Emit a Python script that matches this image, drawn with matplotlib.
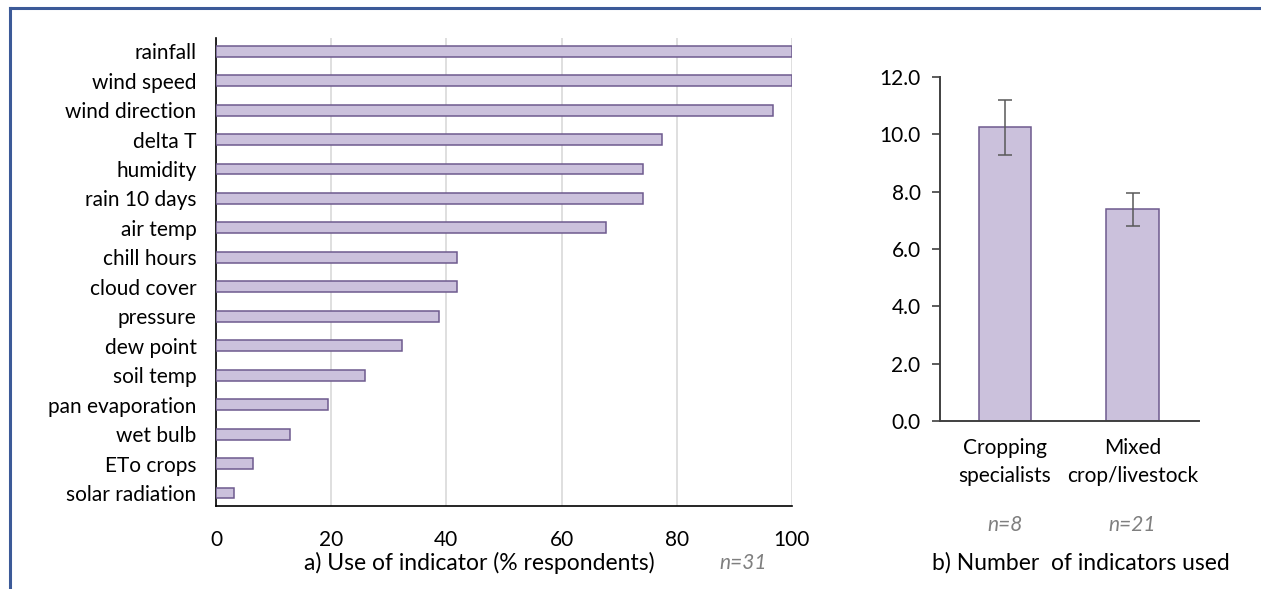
import numpy as np
import matplotlib.pyplot as plt
from matplotlib.lines import Line2D

plt.rcParams['font.family'] = ['Lato', 'DejaVu Sans']

# indicator use, % of respondents (n=31)
indicators = ['rainfall', 'wind speed', 'wind direction', 'delta T', 'humidity',
              'rain 10 days', 'air temp', 'chill hours', 'cloud cover', 'pressure',
              'dew point', 'soil temp', 'pan evaporation', 'wet bulb', 'ETo crops',
              'solar radiation']
pct_use = [100.0, 100.0, 96.8, 77.4, 74.2, 74.2, 67.7, 41.9, 41.9, 38.7,
           32.3, 25.8, 19.4, 12.9, 6.5, 3.2]

# number of indicators used per farm type
groups = ['Cropping\nspecialists', 'Mixed\ncrop/livestock']
group_n = ['n=8', 'n=21']
mean_used = [10.25, 7.38]
err_used = [0.96, 0.58]

FILL = '#CBC1DC'
EDGE = '#6E5A8E'
FS = 15

fig = plt.figure(figsize=(12.61, 5.89), dpi=100)

# a) horizontal bars
ax1 = fig.add_axes([0.1713, 0.141, 0.4567, 0.7945])
y = np.arange(len(indicators))
ax1.barh(y, pct_use, height=0.37, color=FILL, edgecolor=EDGE, linewidth=1.1, zorder=3)
ax1.set_ylim(len(indicators) - 0.56, -0.45)
ax1.set_xlim(0, 100)
ax1.set_yticks(y)
ax1.set_yticklabels(indicators, fontsize=FS)
ax1.set_xticks(np.arange(0, 101, 20))
ax1.tick_params(axis='x', labelsize=FS, length=0, pad=17)
ax1.tick_params(axis='y', length=0, pad=14)
ax1.grid(axis='x', color='#D9D9D9', linewidth=1.2, zorder=0)
for s in ['top', 'right']:
    ax1.spines[s].set_visible(False)
for s in ['left', 'bottom']:
    ax1.spines[s].set_color('black')
    ax1.spines[s].set_linewidth(1.2)

# b) vertical bars with error bars
ax2 = fig.add_axes([0.7454, 0.2852, 0.2054, 0.5841])
x = np.arange(len(groups))
ax2.bar(x, mean_used, width=0.41, color=FILL, edgecolor=EDGE, linewidth=1.1, zorder=2)
ax2.errorbar(x, mean_used, yerr=err_used, fmt='none', ecolor='#595959',
             elinewidth=1.1, capsize=5, capthick=1.1, zorder=3)
ax2.set_xlim(-0.51, 1.52)
ax2.set_ylim(0, 12)
ax2.set_yticks(np.arange(0, 12.1, 2))
ax2.set_yticklabels([f'{v:.1f}' for v in np.arange(0, 12.1, 2)], fontsize=FS)
ax2.set_xticks(x)
ax2.set_xticklabels(groups, fontsize=FS, linespacing=1.5)
ax2.tick_params(axis='x', length=0, pad=12)
ax2.tick_params(axis='y', length=6, width=1.2, color='#404040', pad=8)
for s in ['top', 'right']:
    ax2.spines[s].set_visible(False)
for s in ['left', 'bottom']:
    ax2.spines[s].set_color('#404040')
    ax2.spines[s].set_linewidth(1.4)

# sample sizes and panel captions
for xi, lab in zip(x, group_n):
    ax2.text(xi, -0.302, lab, transform=ax2.get_xaxis_transform(), ha='center',
             va='center', fontsize=FS, style='italic', color='#7F7F7F')
fig.text(479 / 1261, 1 - 563 / 589, 'a) Use of indicator (% respondents)',
         ha='center', va='center', fontsize=16.5)
fig.text(743 / 1261, 1 - 563 / 589, 'n=31', ha='center', va='center',
         fontsize=FS, style='italic', color='#7F7F7F')
fig.text(1081 / 1261, 1 - 563 / 589, 'b) Number  of indicators used',
         ha='center', va='center', fontsize=16.5)

# frame lines along top and left edge
fig.add_artist(Line2D([10 / 1261, 1.0], [1 - 8 / 589, 1 - 8 / 589],
                      transform=fig.transFigure, color='#3C5A98', linewidth=2.2))
fig.add_artist(Line2D([10 / 1261, 10 / 1261], [0, 1 - 8 / 589],
                      transform=fig.transFigure, color='#3C5A98', linewidth=2.2))

fig.savefig('out.png', dpi=100)
